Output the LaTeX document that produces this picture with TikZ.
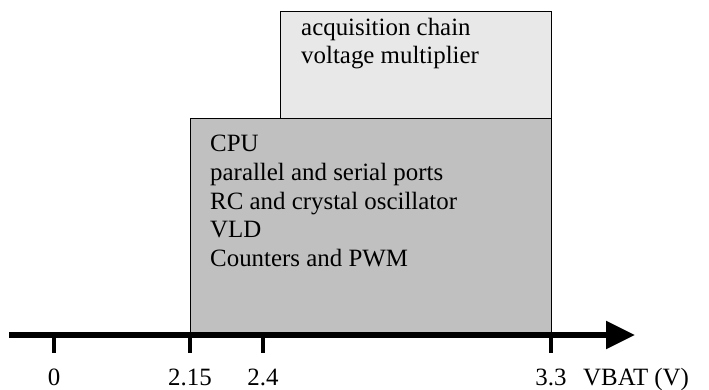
\documentclass[tikz,border=0pt]{standalone}
\usepackage{fontspec}
\setmainfont{Liberation Serif}
\usetikzlibrary{arrows.meta}
\definecolor{lowfill}{HTML}{C0C0C0}
\definecolor{upfill}{HTML}{E8E8E8}
\begin{document}
\begin{tikzpicture}[x=1pt,y=1pt,
  lbl/.style={inner sep=0pt, font=\fontsize{24.9}{29}\selectfont},
  boxline/.style={draw=black, line width=0.9pt},
  tickline/.style={line width=4pt},
  axisline/.style={line width=5.5pt, -{Triangle[length=29pt,width=27pt]}}]
\useasboundingbox (0,0) rectangle (709,-390);
% boxes
\filldraw[boxline, fill=upfill] (280,-11) rectangle (551,-118);
\filldraw[boxline, fill=lowfill] (190,-118) rectangle (551,-335);
% upper texts
\node[lbl, anchor=base west] (u1) at (301,-36) {acquisition chain};
\node[lbl, anchor=base west] (u2) at (301,-64) {voltage multiplier};
% lower texts
\node[lbl, anchor=base west] (c1) at (210,-152) {CPU};
\node[lbl, anchor=base west] (c2) at (210,-180.5) {parallel and serial ports};
\node[lbl, anchor=base west] (c3) at (210,-209) {RC and crystal oscillator};
\node[lbl, anchor=base west] (c4) at (210,-237.5) {VLD};
\node[lbl, anchor=base west] (c5) at (210,-266) {Counters and PWM};
% axis
\coordinate (a0) at (9,-335);
\coordinate (a1) at (635,-335);
\draw[axisline] (a0) -- (a1);
% ticks
\foreach \x/\n in {54/t0, 190/t1, 263/t2, 551/t3}{
  \coordinate (\n top) at (\x,-335);
  \coordinate (\n bot) at (\x,-353);
  \draw[tickline] (\n top) -- (\n bot);
}
\node[lbl, anchor=base] (l0) at (54,-385) {0};
\node[lbl, anchor=base] (l1) at (190,-385) {2.15};
\node[lbl, anchor=base] (l2) at (263,-385) {2.4};
\node[lbl, anchor=base] (l3) at (551,-385) {3.3};
\node[lbl, anchor=base west] (lv) at (583,-385) {VBAT (V)};
\end{tikzpicture}
\end{document}
